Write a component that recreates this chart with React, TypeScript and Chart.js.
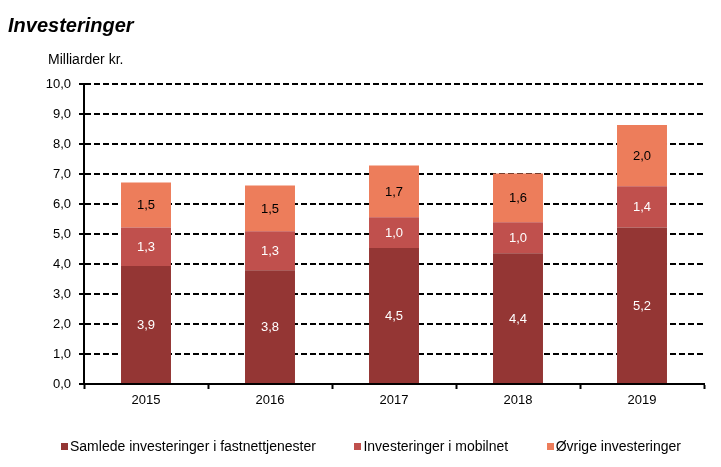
import { useEffect, useRef } from 'react';
import { Chart, registerables } from 'chart.js';

Chart.register(...registerables);

const years = ['2015', '2016', '2017', '2018', '2019'];
const fastnett = [3.93, 3.79, 4.53, 4.36, 5.22];
const mobilnet = [1.29, 1.3, 1.03, 1.03, 1.37];
const ovrige = [1.5, 1.53, 1.72, 1.63, 2.04];
const seriesNames = [
  'Samlede investeringer i fastnettjenester',
  'Investeringer i mobilnet',
  'Øvrige investeringer',
];
const seriesColors = ['#943634', '#C0504D', '#ED7D5B'];
const labelColors = ['#ffffff', '#ffffff', '#000000'];

const FONT = "'Liberation Sans', Arial, sans-serif";
const fmt = (v: number) => v.toFixed(1).replace('.', ',');

// tittel + enhet, og verdier inne i søylene
const textPlugin = {
  id: 'texts',
  afterDatasetsDraw(chart: any) {
    const ctx = chart.ctx;
    ctx.save();
    ctx.textAlign = 'center';
    ctx.textBaseline = 'middle';
    ctx.font = `13px ${FONT}`;
    chart.data.datasets.forEach((ds: any, i: number) => {
      const meta = chart.getDatasetMeta(i);
      meta.data.forEach((bar: any, j: number) => {
        ctx.fillStyle = labelColors[i];
        ctx.fillText(fmt(ds.data[j]), bar.x, (bar.y + bar.base) / 2 + 1);
      });
    });
    ctx.restore();
  },
  afterDraw(chart: any) {
    const ctx = chart.ctx;
    ctx.save();
    ctx.fillStyle = '#000';
    ctx.textAlign = 'left';
    ctx.textBaseline = 'alphabetic';
    ctx.font = `bold italic 20px ${FONT}`;
    ctx.fillText('Investeringer', 8, 32);
    ctx.font = `14px ${FONT}`;
    ctx.fillText('Milliarder kr.', 48, 64);
    ctx.restore();
  },
};

const App = () => {
  const canvasRef = useRef<HTMLCanvasElement>(null);

  useEffect(() => {
    document.body.style.margin = '0';
    if (!canvasRef.current) return;

    const chart = new Chart(canvasRef.current, {
      type: 'bar',
      data: {
        labels: years,
        datasets: [fastnett, mobilnet, ovrige].map((d, i) => ({
          label: seriesNames[i],
          data: d,
          backgroundColor: seriesColors[i],
          borderWidth: 0,
          categoryPercentage: 1,
          barPercentage: 0.403,
        })),
      },
      options: {
        responsive: true,
        maintainAspectRatio: false,
        animation: false,
        layout: { padding: { top: 84, left: 38, right: 17, bottom: 53 } },
        scales: {
          x: {
            stacked: true,
            afterFit: (s: any) => {
              s.height = 30;
            },
            grid: {
              drawOnChartArea: false,
              drawTicks: true,
              tickLength: 5,
              tickColor: '#000',
              tickWidth: 2,
            },
            border: { color: '#000', width: 2 },
            ticks: { color: '#000', padding: 4, font: { family: FONT, size: 13 } },
          },
          y: {
            stacked: true,
            min: 0,
            max: 10,
            afterFit: (s: any) => {
              s.width = 46;
            },
            grid: {
              color: '#000',
              lineWidth: 2,
              tickLength: 5,
              tickColor: '#000',
              tickWidth: 2,
            },
            border: { color: '#000', width: 2, dash: [6, 3] },
            ticks: {
              stepSize: 1,
              color: '#000',
              padding: 8,
              font: { family: FONT, size: 13 },
              callback: (v: any) => fmt(Number(v)),
            },
          },
        },
        plugins: {
          legend: { display: false },
          tooltip: { enabled: false },
        },
      },
      plugins: [textPlugin],
    });

    return () => {
      chart.destroy();
    };
  }, []);

  return (
    <div style={{ position: 'relative', width: 721, height: 467 }}>
      <canvas ref={canvasRef} />
      <div
        style={{
          position: 'absolute',
          left: 61,
          width: 620,
          top: 438,
          display: 'flex',
          justifyContent: 'space-between',
          fontFamily: FONT,
          fontSize: 14,
          lineHeight: '16px',
          color: '#000',
        }}
      >
        {seriesNames.map((name, i) => (
          <div key={name} style={{ display: 'flex', alignItems: 'center' }}>
            <span
              style={{
                display: 'inline-block',
                width: 7,
                height: 7,
                background: seriesColors[i],
                marginRight: 2,
              }}
            />
            <span>{name}</span>
          </div>
        ))}
      </div>
    </div>
  );
};

export default App;
